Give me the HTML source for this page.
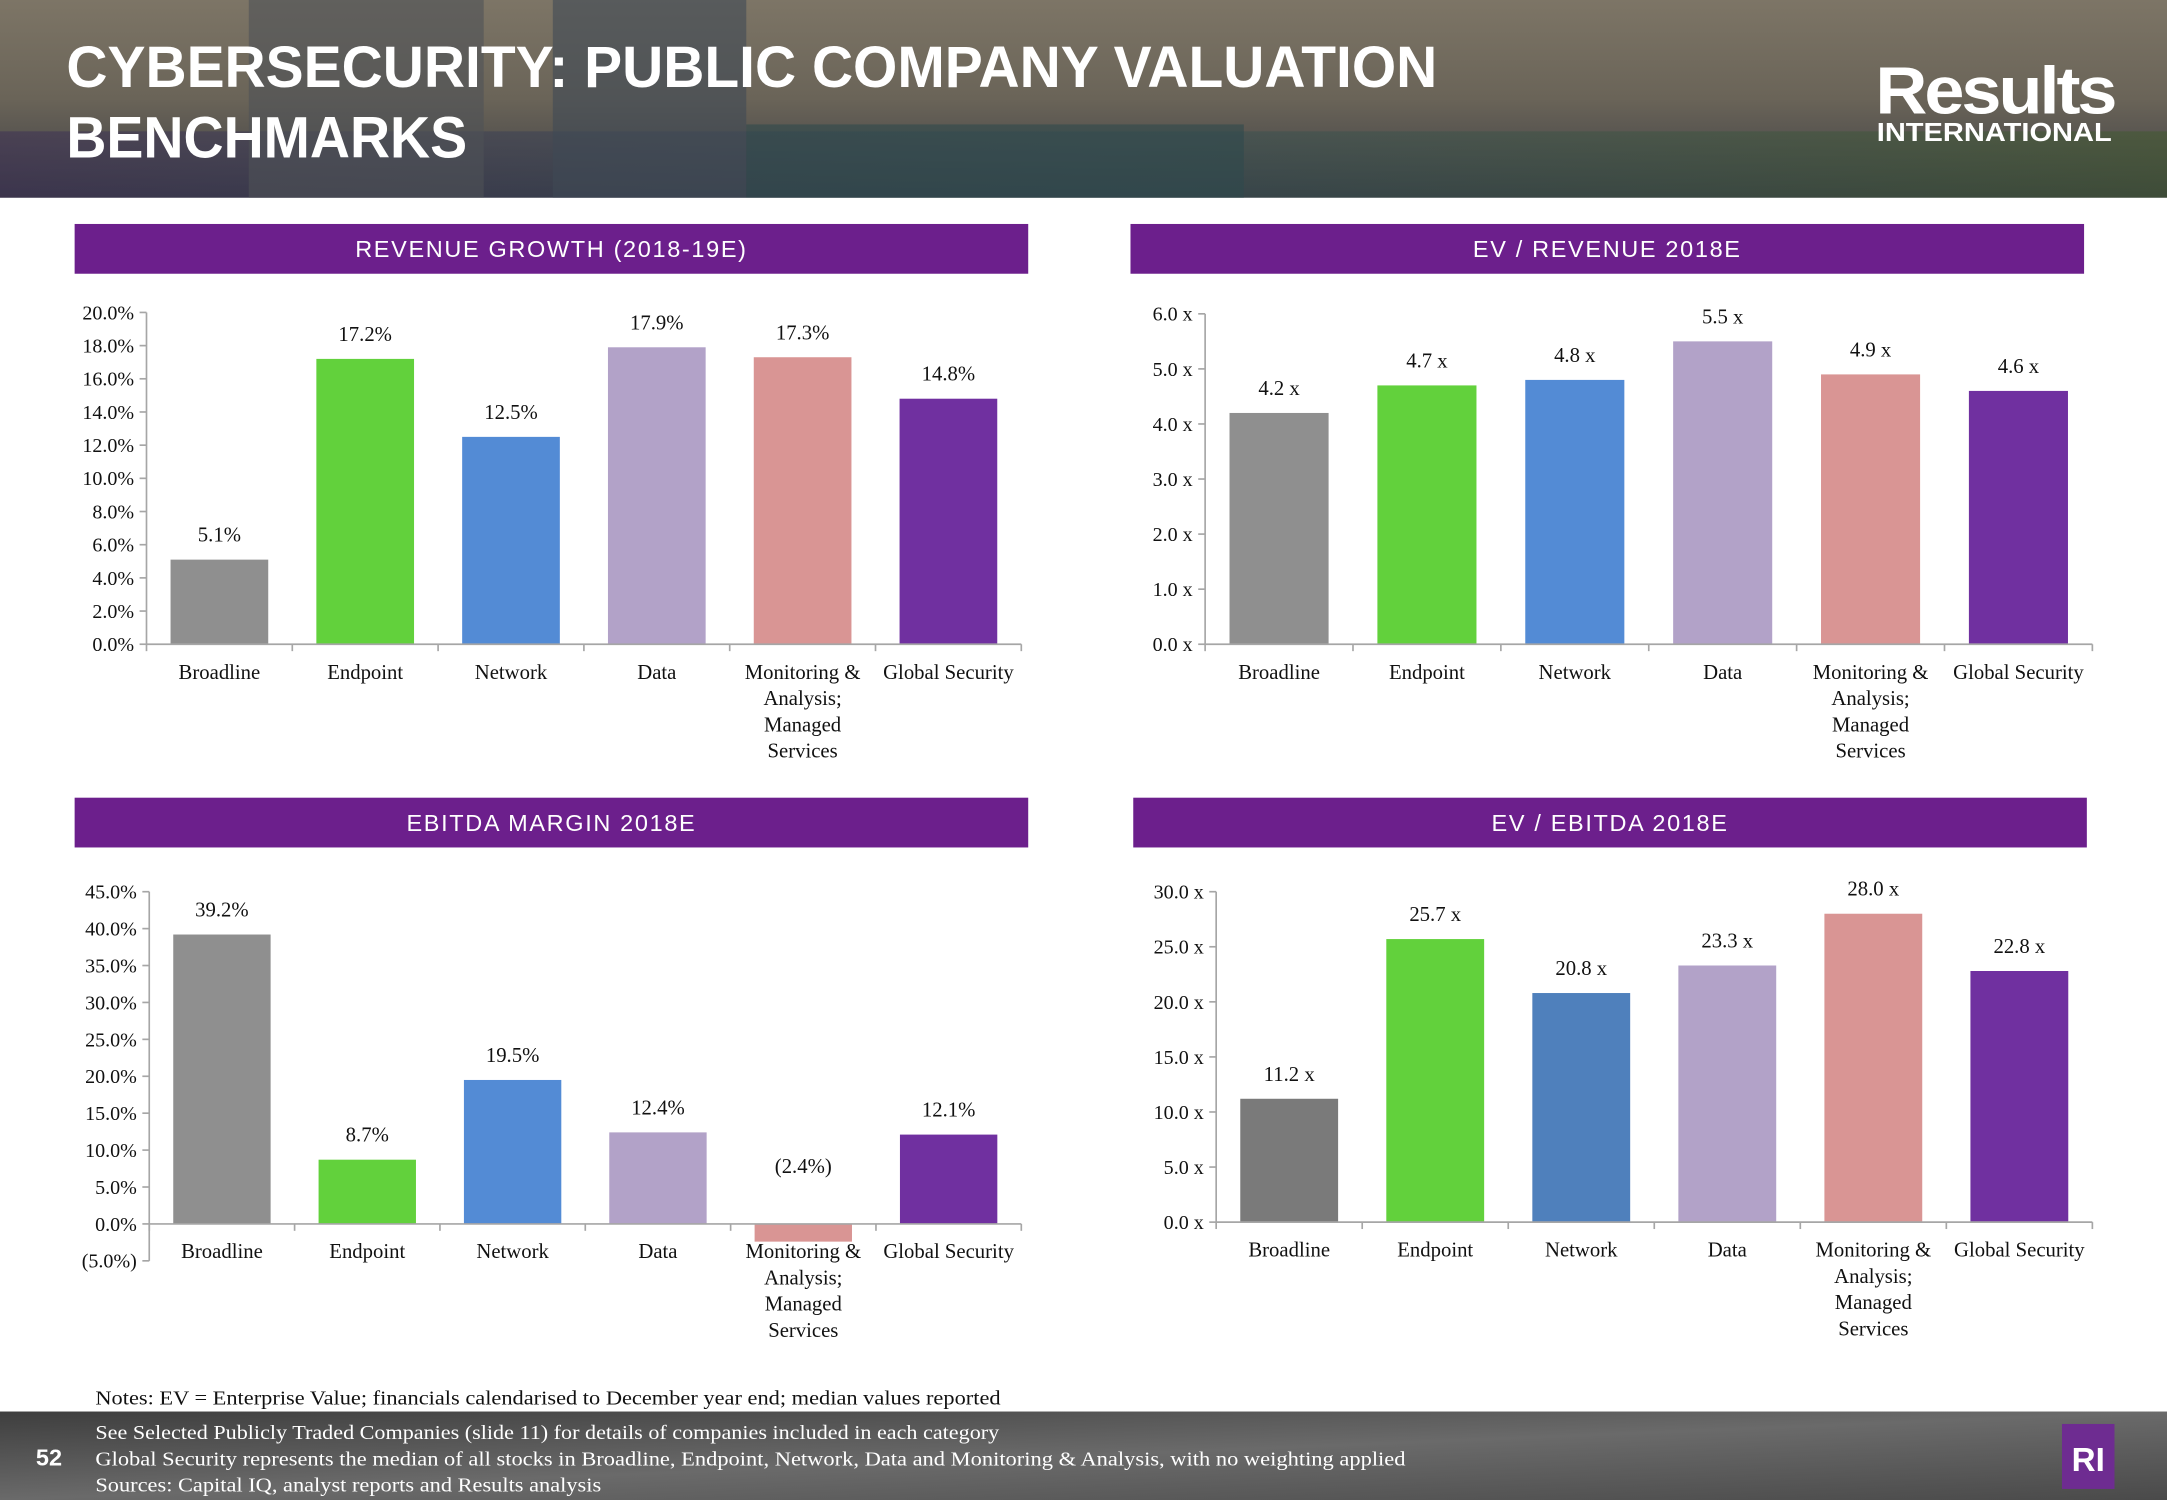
<!DOCTYPE html>
<html><head><meta charset="utf-8">
<style>
html,body{margin:0;padding:0;background:#fff;}
svg{display:block;}
.t{font-family:"Liberation Serif",serif;fill:#111;}
.h{font-family:"Liberation Sans",sans-serif;fill:#fff;}
</style></head>
<body>
<svg id="s" width="2167" height="1500" viewBox="0 0 1568 1085" preserveAspectRatio="none" xmlns="http://www.w3.org/2000/svg">
<defs>
<linearGradient id="hg" x1="0" y1="0" x2="0" y2="1">
<stop offset="0" stop-color="#7d7566"/><stop offset="0.5" stop-color="#6a6458"/><stop offset="1" stop-color="#3c3d44"/>
</linearGradient>
<linearGradient id="hg2" x1="0" y1="0" x2="1" y2="0">
<stop offset="0" stop-color="#3a2c55" stop-opacity="0.5"/><stop offset="0.5" stop-color="#2e4d55" stop-opacity="0.4"/><stop offset="1" stop-color="#3f5a2c" stop-opacity="0.5"/>
</linearGradient>
<linearGradient id="fg" x1="0" y1="0" x2="1" y2="1">
<stop offset="0" stop-color="#3e3e3e"/><stop offset="0.5" stop-color="#6a6a6a"/><stop offset="1" stop-color="#4a4a4a"/>
</linearGradient>
</defs>
<g>
<rect x="0" y="0" width="1568" height="143" fill="url(#hg)"/>
<rect x="0" y="95" width="1568" height="48" fill="url(#hg2)"/>
<rect x="180" y="0" width="170" height="143" fill="#4e5257" opacity="0.6"/>
<rect x="400" y="0" width="140" height="143" fill="#3f4a55" opacity="0.6"/>
<rect x="540" y="90" width="360" height="53" fill="#2f4a4c" opacity="0.6"/>
<text class="h" x="48" y="63" font-size="42" font-weight="bold" textLength="992" lengthAdjust="spacingAndGlyphs">CYBERSECURITY: PUBLIC COMPANY VALUATION</text>
<text class="h" x="48" y="114" font-size="42" font-weight="bold" textLength="290" lengthAdjust="spacingAndGlyphs">BENCHMARKS</text>
<text class="h" x="1357" y="82" font-size="48" font-weight="bold" letter-spacing="-2" textLength="173" lengthAdjust="spacingAndGlyphs">Results</text>
<text class="h" x="1358" y="102" font-size="19" font-weight="bold" textLength="170" lengthAdjust="spacingAndGlyphs">INTERNATIONAL</text>
</g>
<g>
<rect x="0" y="1021" width="1568" height="64" fill="url(#fg)"/>
<text class="t" x="69" y="1016" font-size="14.5" textLength="655" lengthAdjust="spacingAndGlyphs">Notes: EV = Enterprise Value; financials calendarised to December year end; median values reported</text>
<text class="t" x="69" y="1041" font-size="14.5" style="fill:#fff" textLength="654" lengthAdjust="spacingAndGlyphs">See Selected Publicly Traded Companies (slide 11) for details of companies included in each category</text>
<text class="t" x="69" y="1060" font-size="14.5" style="fill:#fff" textLength="948" lengthAdjust="spacingAndGlyphs">Global Security represents the median of all stocks in Broadline, Endpoint, Network, Data and Monitoring &amp; Analysis, with no weighting applied</text>
<text class="t" x="69" y="1079" font-size="14.5" style="fill:#fff" textLength="366" lengthAdjust="spacingAndGlyphs">Sources: Capital IQ, analyst reports and Results analysis</text>
<text class="h" x="26" y="1060" font-size="17" font-weight="bold">52</text>
<rect x="1492" y="1030" width="38" height="47" fill="#6e2c91"/>
<text class="h" x="1511" y="1064" font-size="24" font-weight="bold" text-anchor="middle">RI</text>
</g>
<g id="charts"></g>
</svg>
<script>
const categories = ["Broadline","Endpoint","Network","Data","Monitoring & Analysis; Managed Services","Global Security"];
const colors1 = ["#8f8f8f","#62d13c","#538bd5","#b2a2c8","#d99594","#7030a0"];
const colors4 = ["#7a7a7a","#62d13c","#4f80bc","#b2a2c8","#d99594","#7030a0"];
const revGrowth = [5.1,17.2,12.5,17.9,17.3,14.8];
const revGrowthLabels = ["5.1%","17.2%","12.5%","17.9%","17.3%","14.8%"];
const revGrowthTicks = ["0.0%","2.0%","4.0%","6.0%","8.0%","10.0%","12.0%","14.0%","16.0%","18.0%","20.0%"];
const evRev = [4.2,4.7,4.8,5.5,4.9,4.6];
const evRevLabels = ["4.2 x","4.7 x","4.8 x","5.5 x","4.9 x","4.6 x"];
const evRevTicks = ["0.0 x","1.0 x","2.0 x","3.0 x","4.0 x","5.0 x","6.0 x"];
const ebitdaMargin = [39.2,8.7,19.5,12.4,-2.4,12.1];
const ebitdaMarginLabels = ["39.2%","8.7%","19.5%","12.4%","(2.4%)","12.1%"];
const ebitdaMarginTicks = ["(5.0%)","0.0%","5.0%","10.0%","15.0%","20.0%","25.0%","30.0%","35.0%","40.0%","45.0%"];
const evEbitda = [11.2,25.7,20.8,23.3,28.0,22.8];
const evEbitdaLabels = ["11.2 x","25.7 x","20.8 x","23.3 x","28.0 x","22.8 x"];
const evEbitdaTicks = ["0.0 x","5.0 x","10.0 x","15.0 x","20.0 x","25.0 x","30.0 x"];

const NS="http://www.w3.org/2000/svg";
const root=document.getElementById('charts');
function mk(tag,attrs,parent){const e=document.createElementNS(NS,tag);for(const k in attrs)e.setAttribute(k,attrs[k]);parent.appendChild(e);return e;}

function drawChart(cfg, values, labels, ticks, colors){
  const g=mk('g',{},root);
  
  
  const tb=mk('rect',{x:cfg.tx,y:cfg.ty,width:690,height:36,fill:'#6c1f8c'},g);
  
  
  const tt=mk('text',{x:cfg.tx+345,y:cfg.ty+24,'font-size':17,'text-anchor':'middle','letter-spacing':'1.2',class:'h'},g);
  tt.textContent=cfg.title;
  
  
  const y=v=>cfg.y0-(v-cfg.vmin)/(cfg.vmax-cfg.vmin)*(cfg.y0-cfg.y1);
  const zy=y(0);
  const n=values.length, step=(cfg.x1-cfg.x0)/n;
  const xc=i=>cfg.x0+step*(i+0.5);
  const ax=mk('line',{x1:cfg.x0,x2:cfg.x0,y1:y(cfg.vmin),y2:y(cfg.vmax),stroke:'#a6a6a6','stroke-width':1.2},g);
  
  
  ticks.forEach((t,i)=>{
    const v=cfg.vmin+i*cfg.tstep, yy=y(v);
    mk('line',{x1:cfg.x0-5,x2:cfg.x0,y1:yy,y2:yy,stroke:'#a6a6a6','stroke-width':1.2},g);
    const tx=mk('text',{x:cfg.x0-9,y:yy+5,'font-size':14.5,'text-anchor':'end',class:'t'},g);
    tx.textContent=t;
    
    
  });
  values.forEach((v,i)=>{
    const bw=step*0.67;
    const top=Math.min(y(v),zy), h=Math.abs(y(v)-zy);
    const r=mk('rect',{x:xc(i)-bw/2,y:top,width:bw,height:h,fill:colors[i]},g);
    
    
    const ly = v>=0 ? y(v)-13 : zy - 37;
    const lt=mk('text',{x:xc(i),y:ly,'font-size':15,'text-anchor':'middle',class:'t'},g);
    lt.textContent=labels[i];
    
    
  });
  const xa=mk('line',{x1:cfg.x0,x2:cfg.x1,y1:zy,y2:zy,stroke:'#a6a6a6','stroke-width':1.2},g);
  
  
  for(let i=0;i<=n;i++){const xx=cfg.x0+step*i;mk('line',{x1:xx,x2:xx,y1:zy,y2:zy+5,stroke:'#a6a6a6','stroke-width':1.2},g);}
  const catLines=[["Broadline"],["Endpoint"],["Network"],["Data"],["Monitoring &","Analysis;","Managed","Services"],["Global Security"]];
  catLines.forEach((lines,i)=>{
    const ct=mk('text',{x:xc(i),y:cfg.ly,'font-size':15,'text-anchor':'middle',class:'t'},g);
    
    
    lines.forEach((l,j)=>{const ts=mk('tspan',{x:xc(i),dy:j?19:0},ct);ts.textContent=l;});
  });
}
drawChart({name:'revenue-growth-chart',title:'REVENUE GROWTH (2018-19E)',tx:54,ty:162,x0:106,x1:739,y0:466,y1:226,vmin:0,vmax:20,tstep:2,ly:491},revGrowth,revGrowthLabels,revGrowthTicks,colors1);
drawChart({name:'ev-revenue-chart',title:'EV / REVENUE 2018E',tx:818,ty:162,x0:872,x1:1514,y0:466,y1:227,vmin:0,vmax:6,tstep:1,ly:491},evRev,evRevLabels,evRevTicks,colors1);
drawChart({name:'ebitda-margin-chart',title:'EBITDA MARGIN 2018E',tx:54,ty:577,x0:108,x1:739,y0:912,y1:645,vmin:-5,vmax:45,tstep:5,ly:910},ebitdaMargin,ebitdaMarginLabels,ebitdaMarginTicks,colors1);
drawChart({name:'ev-ebitda-chart',title:'EV / EBITDA 2018E',tx:820,ty:577,x0:880,x1:1514,y0:884,y1:645,vmin:0,vmax:30,tstep:5,ly:909},evEbitda,evEbitdaLabels,evEbitdaTicks,colors4);
</script>
</body></html>
